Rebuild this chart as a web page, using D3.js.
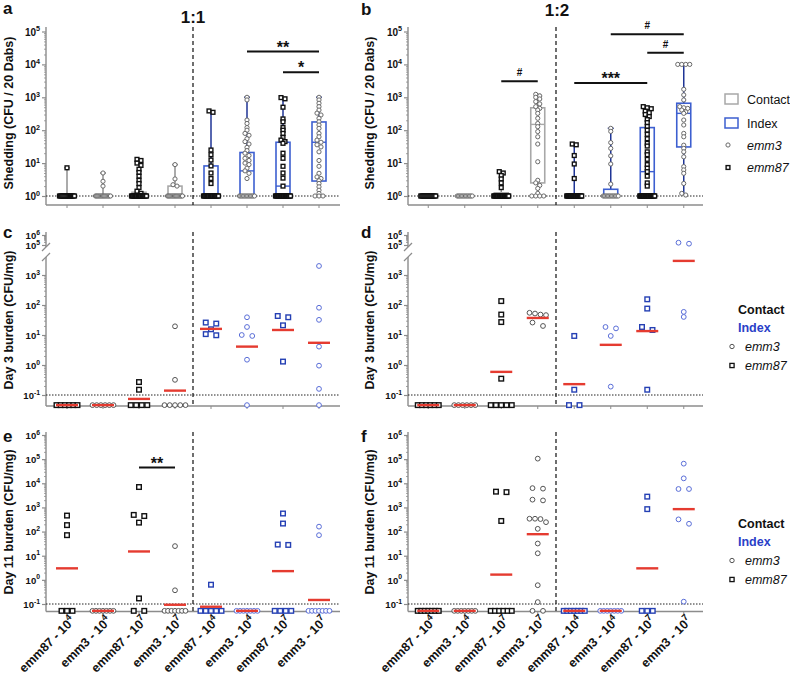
<!DOCTYPE html>
<html>
<head>
<meta charset="utf-8">
<script src="https://cdn.jsdelivr.net/npm/d3@7"></script>
<style>
  body { margin: 0; background: #fff; }
  text { font-family: "Liberation Sans", Arial, sans-serif; }
</style>
</head>
<body>
<div id="fig"></div>
<script>
// ---- categories ----
const strains = ["emm87", "emm3", "emm87", "emm3", "emm87", "emm3", "emm87", "emm3"];
const doseExp = ["4", "4", "7", "7", "4", "4", "7", "7"];
const roles = ["Contact", "Contact", "Contact", "Contact", "Index", "Index", "Index", "Index"];
const groupKeys = strains.map((s, i) => roles[i] + "-" + s + "-" + doseExp[i]);

// ---- shedding (CFU / 20 Dabs), ratio 1:1 ----
const shed11Pts = [
  [7.2, 1, 1, 1, 1, 1, 1, 1, 1, 1, 1, 1, 1, 1, 1, 1],
  [5, 2.8, 2, 1, 1, 1, 1, 1, 1, 1, 1, 1, 1, 1, 1, 1, 1],
  [13, 12, 10, 8.5, 6.5, 5.2, 4, 3, 2.4, 1.8, 1.4, 1.2, 1, 1, 1, 1, 1, 1, 1, 1, 1, 1, 1, 1, 1, 1, 1, 1, 1, 1, 1, 1],
  [9, 3.3, 2.2, 2, 1, 1, 1, 1, 1, 1, 1, 1, 1, 1, 1, 1, 1, 1],
  [385, 350, 25, 18, 12.4, 8.2, 5, 3.4, 2.4, 1, 1, 1, 1, 1, 1, 1, 1, 1, 1, 1, 1, 1, 1, 1, 1, 1, 1, 1, 1],
  [1000, 830, 204, 160, 120, 100, 80, 70, 55, 45, 38, 30, 24, 20, 17, 14, 12, 10, 9, 7, 5.8, 4.9, 3.4, 1, 1, 1, 1, 1, 1, 1, 1, 1, 1, 1, 1],
  [980, 900, 500, 220, 180, 120, 100, 80, 60, 50, 45, 40, 20, 14, 8, 5, 3.5, 2, 1, 1, 1, 1, 1, 1, 1, 1, 1, 1, 1, 1, 1, 1, 1, 1, 1, 1, 1, 1, 1, 1],
  [1000, 830, 660, 520, 410, 330, 290, 230, 180, 144, 114, 80, 63, 50, 43, 36, 31, 22, 12, 8, 4.9, 3.8, 3.4, 2.9, 2.4, 1.9, 1.5, 1.2, 1, 1, 1]
];
// [min, q1, median, q3, max]
const shed11Box = [
  [1, 1, 1, 1.05, 7.2], [1, 1, 1, 1.05, 5], [1, 1, 1, 1.3, 13], [1, 1, 1, 2, 9],
  [1, 1, 1, 8.2, 385], [1, 1, 5.8, 21, 1000], [1, 1, 2, 43, 980], [1, 2.85, 43, 178, 1000]
];

// ---- shedding, ratio 1:2 ----
const shed12Pts = [
  [1, 1, 1, 1, 1, 1, 1, 1, 1, 1, 1, 1, 1, 1, 1, 1],
  [1, 1, 1, 1, 1, 1, 1, 1, 1, 1, 1, 1],
  [5.5, 5, 4.2, 3.3, 2.5, 1.8, 1, 1, 1, 1, 1, 1, 1, 1, 1, 1, 1, 1, 1, 1, 1, 1, 1, 1, 1, 1, 1, 1],
  [1230, 1100, 1000, 890, 740, 630, 520, 460, 410, 325, 230, 160, 128, 91, 63, 38, 11, 3, 2.5, 2.1, 1.7, 1.2, 1, 1, 1, 1],
  [38, 36, 17, 9.4, 3.4, 1, 1, 1, 1, 1, 1, 1, 1, 1, 1, 1, 1, 1, 1, 1, 1, 1, 1, 1, 1, 1, 1, 1, 1, 1],
  [114, 92, 42, 28, 16.6, 9.4, 2.3, 1, 1, 1, 1, 1, 1, 1, 1, 1, 1, 1, 1],
  [520, 480, 450, 380, 340, 300, 260, 210, 170, 130, 100, 75, 55, 40, 33, 22, 18, 13, 9, 7, 5.5, 4, 2.5, 2, 1, 1, 1, 1, 1, 1, 1, 1, 1, 1, 1, 1, 1, 1, 1, 1, 1, 1, 1, 1, 1, 1, 1, 1, 1],
  [10000, 10000, 10000, 10000, 1750, 1180, 830, 520, 480, 460, 410, 360, 325, 204, 144, 80, 63, 35, 28, 22, 15.5, 7.8, 6.2, 4.9, 2.4, 1.2, 1.07]
];
const shed12Box = [
  [1, 1, 1, 1, 1], [1, 1, 1, 1, 1], [1, 1, 1, 1.25, 5.5], [1, 2.5, 150, 480, 1230],
  [1, 1, 1, 1, 38], [1, 1, 1, 1.6, 114], [1, 1, 5.5, 120, 520], [1.07, 31, 325, 660, 10000]
];

// ---- day 3 burden (CFU/mg) ----
const day3r11Pts = [
  [0.046, 0.046, 0.046, 0.046, 0.046, 0.046],
  [0.046, 0.046, 0.046, 0.046, 0.046, 0.046],
  [0.27, 0.15, 0.046, 0.046, 0.046, 0.046],
  [19.5, 0.32, 0.046, 0.046, 0.046, 0.046, 0.046],
  [26, 24, 15.5, 10.7, 9.8],
  [39, 18.5, 10, 9.3, 1.5, 0.046],
  [43, 39, 21, 1.3],
  [2000, 81, 32, 4.1, 0.95, 0.16, 0.046]
];
const day3r11Mean = [0.046, 0.046, 0.074, 0.14, 16, 4.1, 14.7, 5.5];
const day3r12Pts = [
  [0.046, 0.046, 0.046, 0.046, 0.046, 0.046],
  [0.046, 0.046, 0.046, 0.046, 0.046, 0.046],
  [135, 48, 27, 0.35, 0.046, 0.046, 0.046, 0.046, 0.046],
  [55, 52, 48, 46, 26, 20],
  [9.3, 0.15, 0.046, 0.046],
  [18.5, 16.6, 9.3, 0.19],
  [155, 76, 18.5, 14.7, 0.15],
  [170000, 135000, 59, 40]
];
const day3r12Mean = [0.046, 0.046, 0.59, 37, 0.23, 4.7, 13.5, 2950];

// ---- day 11 burden (CFU/mg) ----
const day11r11Pts = [
  [460, 185, 71, 0.052, 0.052, 0.052],
  [0.052, 0.052, 0.052, 0.052, 0.052, 0.052, 0.052],
  [7000, 490, 440, 235, 0.17, 0.052, 0.052],
  [25, 0.37, 0.052, 0.052, 0.052, 0.052, 0.052, 0.052, 0.052],
  [0.63, 0.052, 0.052, 0.052, 0.052, 0.052],
  [0.052, 0.052, 0.052, 0.052, 0.052, 0.052, 0.052],
  [560, 215, 29, 28, 0.052, 0.052, 0.052, 0.052],
  [160, 71, 0.052, 0.052, 0.052, 0.052, 0.052, 0.052, 0.052]
];
const day11r11Mean = [3.0, 0.052, 15, 0.093, 0.077, 0.052, 2.3, 0.147];
const day11r12Pts = [
  [0.052, 0.052, 0.052, 0.052, 0.052, 0.052, 0.052],
  [0.052, 0.052, 0.052, 0.052, 0.052, 0.052, 0.052],
  [4500, 4300, 275, 0.052, 0.052, 0.052, 0.052, 0.052, 0.052],
  [105000, 6300, 6000, 2100, 1950, 340, 340, 330, 245, 130, 32, 12.6, 0.6, 0.12, 0.052, 0.052],
  [0.052, 0.052, 0.052, 0.052, 0.052, 0.052, 0.052],
  [0.052, 0.052, 0.052, 0.052, 0.052, 0.052, 0.052],
  [2800, 850, 0.052, 0.052, 0.052],
  [65000, 16000, 5800, 5800, 320, 210, 0.125]
];
const day11r12Mean = [0.052, 0.052, 1.65, 78, 0.052, 0.052, 3.0, 850];

// ---- significance bars: [from group, to group, level, label] ----
const sigShed11 = [[5, 7, 24500, "**"], [6, 7, 5750, "*"]];
const sigShed12 = [[2, 3, 3090, "#"], [4, 6, 2700, "***"], [5, 7, 82000, "#"], [6, 7, 22700, "#"]];
const sigDay11r11 = [[2, 3, 45000, "**"]];

// ---- tick values ----
const shedTicks = [1, 10, 100, 1000, 10000, 100000];
const day3LowTicks = [0.1, 1, 10, 100, 1000];
const day3HighTicks = [100000, 1000000];
const day11Ticks = [0.1, 1, 10, 100, 1000, 10000, 100000, 1000000];

// ---- styles ----
const axisCol = "#8c8c8c";
const grayBox = "#a8a8a8", blueBox = "#3d5fd0", navy = "#1f3596", red = "#e53b30";
const cols = [
  { ax: 46, x0: 49, x1: 337, end: 340 },
  { ax: 408, x0: 410, x1: 702, end: 703 }
];

const svg = d3.select("#fig").append("svg").attr("width", 790).attr("height", 680);

function minorTicks(lo, hi) {
  const out = [];
  for (let k = lo; k < hi; k++) for (let m = 2; m <= 9; m++) out.push(m * Math.pow(10, k));
  return out;
}

function powLabels(axisG, fs) {
  axisG.selectAll(".tick").each(function (d) {
    const t = d3.select(this).append("text")
      .attr("x", -6).attr("dy", "0.35em")
      .attr("text-anchor", "end").attr("fill", "#111")
      .attr("font-size", fs).attr("font-weight", "bold");
    t.append("tspan").text("10");
    t.append("tspan").attr("dy", -fs * 0.45).attr("font-size", fs * 0.72)
      .text(Math.round(Math.log10(d)));
  });
}

function leftAxis(g, ax, scale, ticks, minors, fs) {
  const a = g.append("g").attr("transform", "translate(" + ax + ",0)")
    .call(d3.axisLeft(scale).tickValues(ticks).tickSize(4).tickFormat(""));
  a.select(".domain").remove();
  a.selectAll(".tick line").attr("stroke", axisCol).attr("stroke-width", 1.2);
  powLabels(a, fs);
  const m = g.append("g").attr("transform", "translate(" + ax + ",0)")
    .call(d3.axisLeft(scale).tickValues(minors).tickSize(2).tickFormat(""));
  m.select(".domain").remove();
  m.selectAll(".tick line").attr("stroke", axisCol).attr("stroke-width", 0.8);
}

function vline(g, x, y0, y1) {
  g.append("line").attr("x1", x).attr("x2", x).attr("y1", y0).attr("y2", y1)
    .attr("stroke", axisCol).attr("stroke-width", 1.4);
}

function bottomAxis(g, c, x, base, withLabels) {
  g.append("line").attr("x1", c.ax).attr("x2", c.end).attr("y1", base).attr("y2", base)
    .attr("stroke", axisCol).attr("stroke-width", 1.4);
  const a = g.append("g").attr("transform", "translate(0," + base + ")")
    .call(d3.axisBottom(x).tickSize(3).tickFormat(""));
  a.select(".domain").remove();
  a.selectAll(".tick line").attr("stroke", axisCol);
  if (withLabels) {
    a.selectAll(".tick").each(function (d, i) {
      const t = d3.select(this).append("text")
        .attr("text-anchor", "end").attr("fill", "#111")
        .attr("font-size", 12.5).attr("font-weight", "bold")
        .attr("transform", "translate(9,10) rotate(-45)");
      t.append("tspan").text(strains[i] + " - 10");
      t.append("tspan").attr("dy", -5.5).attr("font-size", 9).text(doseExp[i]);
    });
  }
}

function layoutPoints(vals, y, cx, tol, gap, pairGap, maxW) {
  const items = vals.map(v => ({ v: v, py: y(v) })).sort((a, b) => a.py - b.py);
  const rows = [];
  items.forEach(it => {
    const r = rows[rows.length - 1];
    if (r && it.py - r[0].py <= tol) r.push(it); else rows.push([it]);
  });
  rows.forEach(r => {
    const n = r.length;
    let s = n === 2 ? pairGap : gap;
    if (n > 1) s = Math.min(s, maxW / (n - 1));
    r.forEach((it, j) => { it.px = cx + (j - (n - 1) / 2) * s; });
  });
  return items;
}

function drawMarker(g, shape, px, py, size, color, sw) {
  if (shape === "emm87") {
    g.append("rect").attr("x", px - size / 2).attr("y", py - size / 2)
      .attr("width", size).attr("height", size)
      .attr("fill", "#fff").attr("stroke", color).attr("stroke-width", sw);
  } else {
    g.append("circle").attr("cx", px).attr("cy", py).attr("r", size / 2)
      .attr("fill", "#fff").attr("stroke", color).attr("stroke-width", sw);
  }
}

function dotted(g, c, yy) {
  g.append("line").attr("x1", c.ax).attr("x2", c.end).attr("y1", yy).attr("y2", yy)
    .attr("stroke", "#222").attr("stroke-width", 1).attr("stroke-dasharray", "1.5,1.5");
}

function dashed(g, x, y0, y1) {
  g.append("line").attr("x1", x).attr("x2", x).attr("y1", y0).attr("y2", y1)
    .attr("stroke", "#222").attr("stroke-width", 1.3).attr("stroke-dasharray", "4,3");
}

function sigBars(g, x, y, sigs) {
  sigs.forEach(s => {
    const x1 = x(groupKeys[s[0]]) + x.bandwidth() / 2;
    const x2 = x(groupKeys[s[1]]) + x.bandwidth() / 2;
    const yy = y(s[2]);
    g.append("line").attr("x1", x1).attr("x2", x2).attr("y1", yy).attr("y2", yy)
      .attr("stroke", "#111").attr("stroke-width", 2);
    const star = s[3] !== "#";
    g.append("text").attr("x", (x1 + x2) / 2).attr("y", star ? yy + 1 : yy - 5)
      .attr("text-anchor", "middle").attr("font-weight", "bold")
      .attr("font-size", star ? 16 : 10).attr("fill", "#111").text(s[3]);
  });
}

function yTitle(x, yc, label) {
  svg.append("text").attr("transform", "translate(" + x + "," + yc + ") rotate(-90)")
    .attr("text-anchor", "middle").attr("font-size", 12.5).attr("font-weight", "bold")
    .attr("fill", "#111").text(label);
}

function panelLetter(x, y, s) {
  svg.append("text").attr("x", x).attr("y", y).attr("font-size", 17)
    .attr("font-weight", "bold").attr("fill", "#111").text(s);
}

// ---- shedding panels (box + points) ----
function shedPanel(colIdx, pts, box, sigs) {
  const c = cols[colIdx];
  const g = svg.append("g");
  const x = d3.scaleBand().domain(groupKeys).range([c.x0, c.x1]);
  const y = d3.scaleLog().domain([1, 1e5]).range([196, 31.5]);
  const base = 205;

  vline(g, c.ax, base, 27);
  leftAxis(g, c.ax, y, shedTicks, minorTicks(0, 5), 10);
  bottomAxis(g, c, x, base, false);
  dotted(g, c, y(1));
  dashed(g, x(groupKeys[4]), 27, base);

  box.forEach((b, i) => {
    const cx = x(groupKeys[i]) + x.bandwidth() / 2;
    const isIdx = roles[i] === "Index";
    const bc = isIdx ? blueBox : grayBox;
    const wc = isIdx ? navy : "#8f8f8f";
    const bw = 14;
    if (b[4] > b[3]) {
      g.append("line").attr("x1", cx).attr("x2", cx).attr("y1", y(b[3])).attr("y2", y(b[4]))
        .attr("stroke", wc).attr("stroke-width", 1.5);
      g.append("line").attr("x1", cx - 3).attr("x2", cx + 3).attr("y1", y(b[4])).attr("y2", y(b[4]))
        .attr("stroke", wc).attr("stroke-width", 1.5);
    }
    if (b[1] > b[0]) {
      g.append("line").attr("x1", cx).attr("x2", cx).attr("y1", y(b[0])).attr("y2", y(b[1]))
        .attr("stroke", wc).attr("stroke-width", 1.5);
    }
    g.append("rect").attr("x", cx - bw / 2).attr("y", y(b[3])).attr("width", bw)
      .attr("height", Math.max(0.5, y(b[1]) - y(b[3])))
      .attr("fill", "none").attr("stroke", bc).attr("stroke-width", 1.6);
    g.append("line").attr("x1", cx - bw / 2).attr("x2", cx + bw / 2)
      .attr("y1", y(b[2])).attr("y2", y(b[2])).attr("stroke", bc).attr("stroke-width", 1.4);

    const items = layoutPoints(pts[i], y, cx, 2.5, 4, 4, 15);
    items.forEach(it => {
      if (strains[i] === "emm87") drawMarker(g, "emm87", it.px, it.py, 3.8, "#111", 1.4);
      else drawMarker(g, "emm3", it.px, it.py, 4.2, "#6a6a6a", 1);
    });
  });
  sigBars(g, x, y, sigs);
}

// ---- burden panels (points + mean) ----
function burdenPanel(colIdx, pts, means, broken, sigs) {
  const c = cols[colIdx];
  const g = svg.append("g");
  const x = d3.scaleBand().domain(groupKeys).range([c.x0, c.x1]);
  let y, base, top;
  if (broken) {
    const lower = d3.scaleLog().domain([0.1, 1000]).range([395, 275]);
    const upper = d3.scaleLog().domain([1e5, 1e6]).range([245, 235]);
    y = v => (v >= 1e4 ? upper(v) : lower(v));
    base = 406; top = 232;
    vline(g, c.ax, base, 257);
    vline(g, c.ax, 247, 232);
    [247, 257].forEach(yy => {
      g.append("line").attr("x1", c.ax - 4).attr("x2", c.ax + 4)
        .attr("y1", yy + 4).attr("y2", yy - 4).attr("stroke", axisCol).attr("stroke-width", 1.2);
    });
    leftAxis(g, c.ax, lower, day3LowTicks, minorTicks(-1, 3), 9.5);
    leftAxis(g, c.ax, upper, day3HighTicks, minorTicks(5, 6), 9.5);
  } else {
    y = d3.scaleLog().domain([0.1, 1e6]).range([604, 435]);
    base = 611.5; top = 432;
    vline(g, c.ax, base, 432);
    leftAxis(g, c.ax, y, day11Ticks, minorTicks(-1, 6), 9.5);
  }
  bottomAxis(g, c, x, base, !broken);
  dotted(g, c, y(0.1));
  dashed(g, x(groupKeys[4]), top, base);

  pts.forEach((vals, i) => {
    const cx = x(groupKeys[i]) + x.bandwidth() / 2;
    const isIdx = roles[i] === "Index";
    const items = layoutPoints(vals, y, cx, 4.5, 5.5, 10.5, 21);
    items.forEach(it => {
      if (strains[i] === "emm87") drawMarker(g, "emm87", it.px, it.py, 4.6, isIdx ? "#2540b4" : "#111", 1.4);
      else drawMarker(g, "emm3", it.px, it.py, 4.8, isIdx ? "#5a6ed8" : "#555", 1);
    });
    g.append("line").attr("x1", cx - 11).attr("x2", cx + 11)
      .attr("y1", y(means[i])).attr("y2", y(means[i]))
      .attr("stroke", red).attr("stroke-width", 2.4);
  });
  if (sigs) sigBars(g, x, y, sigs);
}

shedPanel(0, shed11Pts, shed11Box, sigShed11);
shedPanel(1, shed12Pts, shed12Box, sigShed12);
burdenPanel(0, day3r11Pts, day3r11Mean, true, null);
burdenPanel(1, day3r12Pts, day3r12Mean, true, null);
burdenPanel(0, day11r11Pts, day11r11Mean, false, sigDay11r11);
burdenPanel(1, day11r12Pts, day11r12Mean, false, null);

// ---- titles, letters, axis titles ----
svg.append("text").attr("x", 193).attr("y", 23).attr("text-anchor", "middle")
  .attr("font-size", 17).attr("font-weight", "bold").attr("fill", "#111").text("1:1");
svg.append("text").attr("x", 557).attr("y", 16).attr("text-anchor", "middle")
  .attr("font-size", 17).attr("font-weight", "bold").attr("fill", "#111").text("1:2");
panelLetter(3, 14, "a"); panelLetter(361, 15, "b");
panelLetter(3, 238, "c"); panelLetter(361, 238, "d");
panelLetter(3, 442, "e"); panelLetter(361, 442, "f");

yTitle(13, 113, "Shedding (CFU / 20 Dabs)");
yTitle(374, 113, "Shedding (CFU / 20 Dabs)");
yTitle(13, 320, "Day 3 burden (CFU/mg)");
yTitle(374, 320, "Day 3 burden (CFU/mg)");
yTitle(13, 522, "Day 11 burden (CFU/mg)");
yTitle(374, 522, "Day 11 burden (CFU/mg)");

// ---- legends ----
const legendRoles = ["Contact", "Index"];
const legendStrains = ["emm3", "emm87"];

const lg1 = svg.append("g");
legendRoles.forEach((r, i) => {
  const yy = 99 + i * 24;
  lg1.append("rect").attr("x", 725).attr("y", yy - 5).attr("width", 13).attr("height", 10)
    .attr("fill", "#fff").attr("stroke", r === "Index" ? blueBox : grayBox).attr("stroke-width", 1.5);
  lg1.append("text").attr("x", 747).attr("y", yy + 4.5).attr("font-size", 12.5).attr("fill", "#111").text(r);
});
legendStrains.forEach((s, i) => {
  const yy = 145 + i * 22.5;
  if (s === "emm87") drawMarker(lg1, s, 728, yy, 3.8, "#111", 1.4);
  else drawMarker(lg1, s, 728, yy, 4.2, "#6a6a6a", 1);
  lg1.append("text").attr("x", 747).attr("y", yy + 4.5).attr("font-size", 12.5)
    .attr("font-style", "italic").attr("fill", "#111").text(s);
});

function burdenLegend(y0) {
  const lg = svg.append("g");
  legendRoles.forEach((r, i) => {
    lg.append("text").attr("x", 738).attr("y", y0 + i * 18.5 + 4.5).attr("font-size", 12.5)
      .attr("font-weight", "bold").attr("fill", r === "Index" ? "#2a40c8" : "#111").text(r);
  });
  legendStrains.forEach((s, i) => {
    const yy = y0 + 37.5 + i * 19;
    if (s === "emm87") drawMarker(lg, s, 732, yy, 4.2, "#111", 1.3);
    else drawMarker(lg, s, 732, yy, 4.4, "#555", 1);
    lg.append("text").attr("x", 745).attr("y", yy + 4.5).attr("font-size", 12.5)
      .attr("font-style", "italic").attr("fill", "#111").text(s);
  });
}
burdenLegend(309);
burdenLegend(523);
</script>
</body>
</html>
